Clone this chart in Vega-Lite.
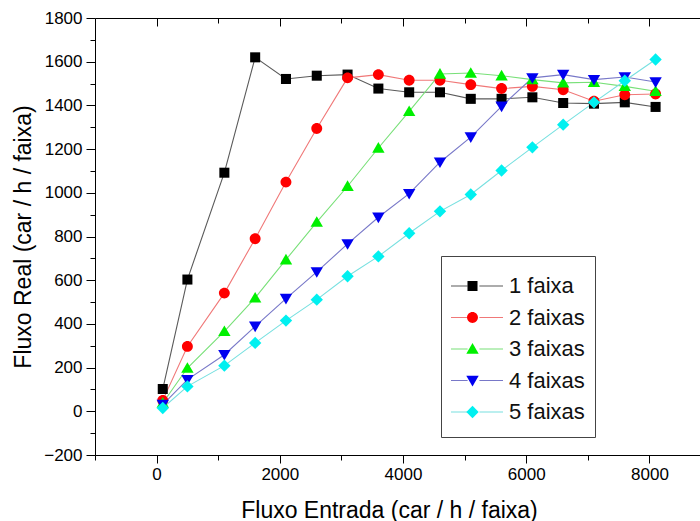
{
  "$schema": "https://vega.github.io/schema/vega-lite/v6.json",
  "width": 605,
  "height": 437,
  "autosize": {"type": "none"},
  "padding": {"left": 95, "top": 18, "right": 0, "bottom": 66},
  "background": "white",
  "config": {
    "view": {"stroke": null},
    "font": "Liberation Sans",
    "axis": {
      "grid": false,
      "domainColor": "black",
      "tickColor": "black",
      "labelColor": "black",
      "titleColor": "black",
      "labelFont": "Liberation Sans",
      "titleFont": "Liberation Sans",
      "labelFontSize": 17,
      "titleFontSize": 23,
      "titleFontWeight": "normal",
      "domainWidth": 1,
      "tickWidth": 1
    },
    "legend": {
      "labelFont": "Liberation Sans",
      "titleFont": "Liberation Sans",
      "labelFontSize": 22,
      "labelColor": "#111111"
    }
  },
  "data": {
    "values": [
      {"s": "1 faixa", "x": 100, "y": 102},
      {"s": "1 faixa", "x": 500, "y": 603},
      {"s": "1 faixa", "x": 1100, "y": 1092},
      {"s": "1 faixa", "x": 1600, "y": 1620},
      {"s": "1 faixa", "x": 2100, "y": 1521},
      {"s": "1 faixa", "x": 2600, "y": 1536},
      {"s": "1 faixa", "x": 3100, "y": 1541},
      {"s": "1 faixa", "x": 3600, "y": 1477},
      {"s": "1 faixa", "x": 4100, "y": 1460},
      {"s": "1 faixa", "x": 4600, "y": 1460},
      {"s": "1 faixa", "x": 5100, "y": 1430},
      {"s": "1 faixa", "x": 5600, "y": 1430},
      {"s": "1 faixa", "x": 6100, "y": 1437},
      {"s": "1 faixa", "x": 6600, "y": 1411},
      {"s": "1 faixa", "x": 7100, "y": 1408},
      {"s": "1 faixa", "x": 7600, "y": 1414},
      {"s": "1 faixa", "x": 8100, "y": 1393},
      {"s": "2 faixas", "x": 100, "y": 50},
      {"s": "2 faixas", "x": 500, "y": 297},
      {"s": "2 faixas", "x": 1100, "y": 541},
      {"s": "2 faixas", "x": 1600, "y": 790},
      {"s": "2 faixas", "x": 2100, "y": 1049},
      {"s": "2 faixas", "x": 2600, "y": 1294},
      {"s": "2 faixas", "x": 3100, "y": 1526},
      {"s": "2 faixas", "x": 3600, "y": 1541},
      {"s": "2 faixas", "x": 4100, "y": 1515},
      {"s": "2 faixas", "x": 4600, "y": 1515},
      {"s": "2 faixas", "x": 5100, "y": 1495},
      {"s": "2 faixas", "x": 5600, "y": 1477},
      {"s": "2 faixas", "x": 6100, "y": 1487},
      {"s": "2 faixas", "x": 6600, "y": 1472},
      {"s": "2 faixas", "x": 7100, "y": 1419},
      {"s": "2 faixas", "x": 7600, "y": 1449},
      {"s": "2 faixas", "x": 8100, "y": 1452},
      {"s": "3 faixas", "x": 100, "y": 38},
      {"s": "3 faixas", "x": 500, "y": 198},
      {"s": "3 faixas", "x": 1100, "y": 366},
      {"s": "3 faixas", "x": 1600, "y": 519},
      {"s": "3 faixas", "x": 2100, "y": 694},
      {"s": "3 faixas", "x": 2600, "y": 866},
      {"s": "3 faixas", "x": 3100, "y": 1030},
      {"s": "3 faixas", "x": 3600, "y": 1205},
      {"s": "3 faixas", "x": 4100, "y": 1373},
      {"s": "3 faixas", "x": 4600, "y": 1544},
      {"s": "3 faixas", "x": 5100, "y": 1548},
      {"s": "3 faixas", "x": 5600, "y": 1536},
      {"s": "3 faixas", "x": 6100, "y": 1518},
      {"s": "3 faixas", "x": 6600, "y": 1503},
      {"s": "3 faixas", "x": 7100, "y": 1506},
      {"s": "3 faixas", "x": 7600, "y": 1487},
      {"s": "3 faixas", "x": 8100, "y": 1465},
      {"s": "4 faixas", "x": 100, "y": 31},
      {"s": "4 faixas", "x": 500, "y": 145},
      {"s": "4 faixas", "x": 1100, "y": 259},
      {"s": "4 faixas", "x": 1600, "y": 389},
      {"s": "4 faixas", "x": 2100, "y": 516},
      {"s": "4 faixas", "x": 2600, "y": 638},
      {"s": "4 faixas", "x": 3100, "y": 766},
      {"s": "4 faixas", "x": 3600, "y": 888},
      {"s": "4 faixas", "x": 4100, "y": 996},
      {"s": "4 faixas", "x": 4600, "y": 1140},
      {"s": "4 faixas", "x": 5100, "y": 1255},
      {"s": "4 faixas", "x": 5600, "y": 1396},
      {"s": "4 faixas", "x": 6100, "y": 1526},
      {"s": "4 faixas", "x": 6600, "y": 1541},
      {"s": "4 faixas", "x": 7100, "y": 1518},
      {"s": "4 faixas", "x": 7600, "y": 1530},
      {"s": "4 faixas", "x": 8100, "y": 1507},
      {"s": "5 faixas", "x": 100, "y": 15},
      {"s": "5 faixas", "x": 500, "y": 114},
      {"s": "5 faixas", "x": 1100, "y": 209},
      {"s": "5 faixas", "x": 1600, "y": 313},
      {"s": "5 faixas", "x": 2100, "y": 415},
      {"s": "5 faixas", "x": 2600, "y": 511},
      {"s": "5 faixas", "x": 3100, "y": 618},
      {"s": "5 faixas", "x": 3600, "y": 709},
      {"s": "5 faixas", "x": 4100, "y": 815},
      {"s": "5 faixas", "x": 4600, "y": 915},
      {"s": "5 faixas", "x": 5100, "y": 992},
      {"s": "5 faixas", "x": 5600, "y": 1102},
      {"s": "5 faixas", "x": 6100, "y": 1208},
      {"s": "5 faixas", "x": 6600, "y": 1312},
      {"s": "5 faixas", "x": 7100, "y": 1414},
      {"s": "5 faixas", "x": 7600, "y": 1513},
      {"s": "5 faixas", "x": 8100, "y": 1610}
    ]
  },
  "resolve": {"axis": {"x": "independent", "y": "independent"}},
  "layer": [
    {
      "mark": {"type": "line", "strokeWidth": 1.1},
      "encoding": {
        "x": {
          "field": "x", "type": "quantitative",
          "scale": {"domain": [-1000, 8821], "nice": false, "zero": false},
          "axis": {"orient": "bottom", "values": [0, 2000, 4000, 6000, 8000], "format": "d", "tickSize": 8, "labelPadding": 3, "title": "Fluxo Entrada (car / h / faixa)", "titlePadding": 17, "titleX": 294, "titleAnchor": "start", "titleAlign": "center"}
        },
        "y": {
          "field": "y", "type": "quantitative",
          "scale": {"domain": [-200, 1800], "nice": false, "zero": false},
          "axis": {"orient": "left", "values": [-200, 0, 200, 400, 600, 800, 1000, 1200, 1400, 1600, 1800], "format": "d", "tickSize": 9, "labelPadding": 4, "title": "Fluxo Real (car / h / faixa)", "titlePadding": 8}
        },
        "color": {
          "field": "s", "type": "nominal",
          "scale": {"domain": ["1 faixa", "2 faixas", "3 faixas", "4 faixas", "5 faixas"], "range": ["#5a5a5a", "#f07878", "#78e078", "#7878c8", "#78e0e0"]},
          "legend": {
            "orient": "none", "legendX": 346, "legendY": 238,
            "title": " ", "titleFontSize": 4, "titlePadding": 1,
            "symbolType": "M-1,0H-0.2M0.2,0H1", "symbolSize": 3481, "symbolStrokeWidth": 1.1, "symbolOffset": -8,
            "labelOffset": 7, "labelExpr": "''",
            "clipHeight": 30, "rowPadding": 1.5, "padding": 10
          }
        }
      }
    },
    {
      "mark": {"type": "point", "filled": true, "size": 3481, "opacity": 1},
      "encoding": {
        "x": {
          "field": "x", "type": "quantitative",
          "axis": {"orient": "top", "values": [0, 2000, 4000, 6000, 8000], "tickSize": -8, "labels": false, "title": null}
        },
        "y": {
          "field": "y", "type": "quantitative",
          "axis": {"orient": "left", "values": [-100, 100, 300, 500, 700, 900, 1100, 1300, 1500, 1700], "tickSize": 5, "labels": false, "title": null, "domain": false}
        },
        "fill": {
          "field": "s", "type": "nominal",
          "scale": {"range": ["#000000", "#ff0000", "#00f000", "#0000f0", "#00f0f0"]},
          "legend": {
            "orient": "none", "legendX": 346, "legendY": 238,
            "title": " ", "titleFontSize": 4, "titlePadding": 1,
            "symbolSize": 3481, "symbolOffset": -8, "symbolStrokeWidth": 0,
            "labelOffset": 7,
            "clipHeight": 30, "rowPadding": 1.5, "padding": 10,
            "strokeColor": "#444444", "cornerRadius": 0
          }
        },
        "shape": {
          "field": "s", "type": "nominal",
          "scale": {"range": [
            "M-0.17,-0.17H0.17V0.17H-0.17Z",
            "M-0.185,0A0.185,0.185,0,1,0,0.185,0A0.185,0.185,0,1,0,-0.185,0Z",
            "M0,-0.2L0.21,0.16H-0.21Z",
            "M0,0.2L0.21,-0.16H-0.21Z",
            "M0,-0.21L0.21,0L0,0.21L-0.21,0Z"
          ]},
          "legend": {
            "orient": "none", "legendX": 346, "legendY": 238,
            "title": " ", "titleFontSize": 4, "titlePadding": 1,
            "symbolSize": 3481, "symbolOffset": -8, "symbolStrokeWidth": 0,
            "labelOffset": 7,
            "clipHeight": 30, "rowPadding": 1.5, "padding": 10,
            "strokeColor": "#444444", "cornerRadius": 0
          }
        }
      }
    },
    {
      "mark": {"type": "point", "opacity": 0},
      "encoding": {
        "x": {
          "field": "x", "type": "quantitative",
          "axis": {"orient": "bottom", "values": [-1000, 1000, 3000, 5000, 7000], "tickSize": 5, "labels": false, "title": null, "domain": false}
        },
        "y": {"field": "y", "type": "quantitative", "axis": null}
      }
    },
    {
      "mark": {"type": "point", "opacity": 0},
      "encoding": {
        "x": {
          "field": "x", "type": "quantitative",
          "axis": {"orient": "top", "values": [1000, 3000, 5000, 7000], "tickSize": -5, "labels": false, "title": null, "domain": false}
        },
        "y": {"field": "y", "type": "quantitative", "axis": null}
      }
    }
  ]
}
